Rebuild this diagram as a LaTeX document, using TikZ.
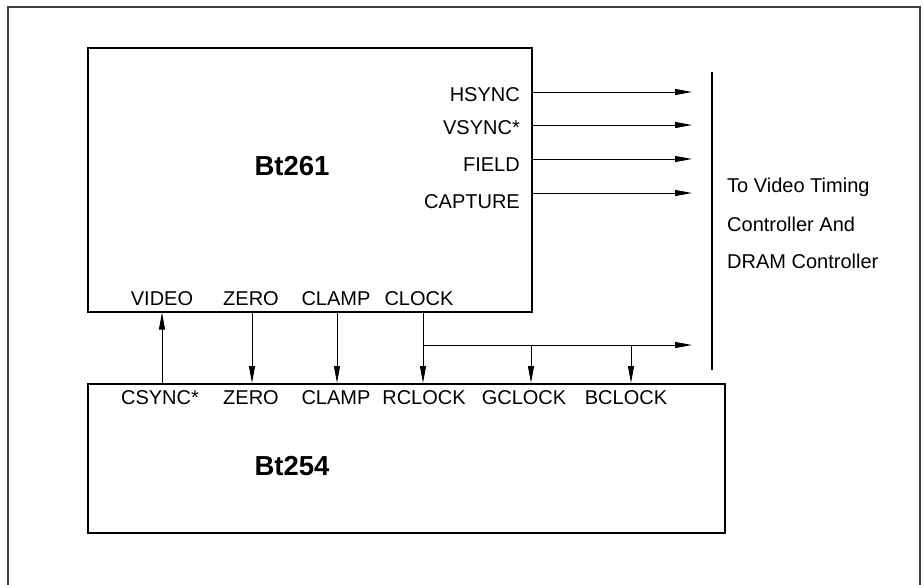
\documentclass[tikz,border=0pt]{standalone}
\usepackage{fontspec}
\setmainfont{Liberation Sans}
\usetikzlibrary{arrows.meta}
\begin{document}
\begin{tikzpicture}[x=1pt,y=-1pt,
  chip/.style={draw, line width=1.5pt, anchor=north west, inner sep=0pt},
  lbl/.style={inner sep=0pt, font=\fontsize{20}{23}\selectfont},
  big/.style={inner sep=0pt, font=\fontsize{27.5}{30}\selectfont\bfseries},
  arr/.style={line width=1pt, -{Triangle[length=17pt,width=6pt]}},
  wire/.style={line width=1pt}]
\useasboundingbox (0,0) rectangle (923,584);
% outer frame (open at bottom)
\draw[line width=2pt, black!75] (8,590) -- (8,7) -- (920,7) -- (920,590);
% chips
\node[chip, minimum width=444pt, minimum height=264pt] (bt261) at (87,47) {};
\node[chip, minimum width=637pt, minimum height=149pt] (bt254) at (87,383) {};
\node[big] (t261) at (292,166) {Bt261};
\node[big] (t254) at (292,466) {Bt254};
% right-side outputs
\node[lbl, anchor=east] (hs) at (520,95) {HSYNC};
\node[lbl, anchor=east] (vs) at (520,128) {VSYNC*};
\node[lbl, anchor=east] (fd) at (520,165) {FIELD};
\node[lbl, anchor=east] (cp) at (520,202) {CAPTURE};
\coordinate (e1) at (692,92);
\coordinate (e2) at (692,125);
\coordinate (e3) at (692,159);
\coordinate (e4) at (692,193);
\draw[arr] (bt261.east |- e1) -- (e1);
\draw[arr] (bt261.east |- e2) -- (e2);
\draw[arr] (bt261.east |- e3) -- (e3);
\draw[arr] (bt261.east |- e4) -- (e4);
% destination bus line and text
\coordinate (bt) at (712,72);
\coordinate (bb) at (712,370);
\draw[line width=1.2pt] (bt) -- (bb);
\node[lbl, anchor=west] (d1) at (727,187) {To Video Timing};
\node[lbl, anchor=west] (d2) at (727,224) {Controller And};
\node[lbl, anchor=west] (d3) at (727,261) {DRAM Controller};
% Bt261 bottom labels
\node[lbl] (video) at (162,299) {VIDEO};
\node[lbl] (zero1) at (251,299) {ZERO};
\node[lbl] (clamp1) at (336,299) {CLAMP};
\node[lbl] (clock) at (419,299) {CLOCK};
% Bt254 top labels
\node[lbl] (csync) at (160,398) {CSYNC*};
\node[lbl] (zero2) at (251,398) {ZERO};
\node[lbl] (clamp2) at (336,398) {CLAMP};
\node[lbl] (rclock) at (424,398) {RCLOCK};
\node[lbl] (gclock) at (524,398) {GCLOCK};
\node[lbl] (bclock) at (626,398) {BCLOCK};
% vertical connectors
\coordinate (xv) at (162,0);
\coordinate (xz) at (252,0);
\coordinate (xc) at (337,0);
\coordinate (xk) at (423,0);
\coordinate (xg) at (531,0);
\coordinate (xb) at (631,0);
\coordinate (br) at (423,345);
\coordinate (be) at (692,345);
\draw[arr] (xv |- bt254.north) -- (xv |- bt261.south);
\draw[arr] (xz |- bt261.south) -- (xz |- bt254.north);
\draw[arr] (xc |- bt261.south) -- (xc |- bt254.north);
\draw[arr] (xk |- bt261.south) -- (xk |- bt254.north);
\draw[arr] (br) -- (be);
\draw[arr] (xg |- br) -- (xg |- bt254.north);
\draw[arr] (xb |- br) -- (xb |- bt254.north);
\end{tikzpicture}
\end{document}
